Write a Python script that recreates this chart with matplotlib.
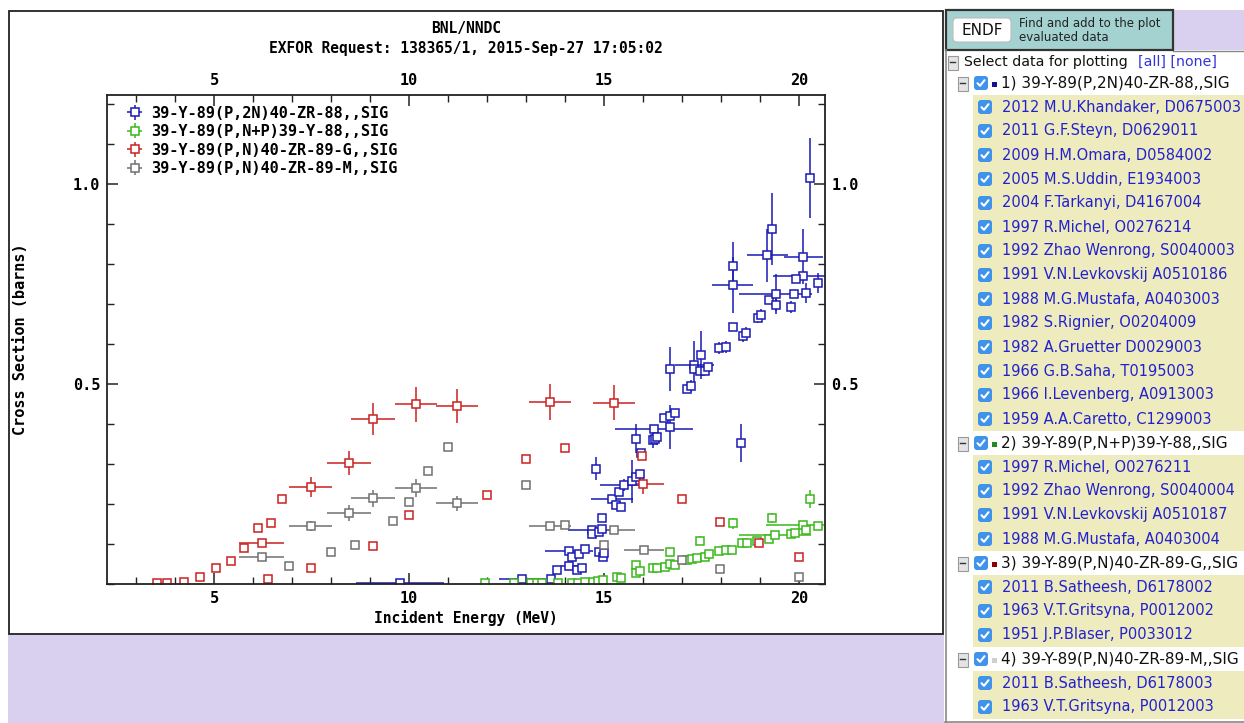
import matplotlib
matplotlib.use("Agg")
import matplotlib.pyplot as plt
from matplotlib.patches import Rectangle, FancyBboxPatch
from matplotlib.ticker import MultipleLocator, FormatStrFormatter

# ---------------- data: 39-Y-89 proton reactions (energy MeV, sigma barns) ----------------
zr88_x = [9.77, 12.91, 13.63, 13.80, 14.10, 14.30, 14.43, 14.11, 14.17, 14.37, 14.52, 14.88,
          14.98, 15.00, 14.69, 14.69, 14.86, 14.96, 14.96, 15.20, 15.32, 15.44, 14.79, 15.38,
          15.51, 15.71, 15.81, 15.93, 15.95, 15.82, 16.28, 16.25, 16.31, 16.36, 16.54, 16.70,
          16.81, 16.70, 16.69, 17.12, 17.23, 17.32, 17.32, 17.47, 17.60, 17.67, 17.48, 17.95,
          18.13, 18.30, 18.56, 18.65, 18.96, 19.03, 19.23, 19.40, 19.80, 18.30, 18.30, 18.51,
          19.30, 19.19, 20.11, 20.11, 19.92, 19.40, 19.88, 20.19, 20.49, 20.29]
zr88_y = [0.004, 0.012, 0.014, 0.035, 0.045, 0.035, 0.041, 0.082, 0.069, 0.075, 0.087, 0.080,
          0.069, 0.077, 0.136, 0.125, 0.131, 0.139, 0.165, 0.212, 0.199, 0.192, 0.289, 0.230,
          0.249, 0.257, 0.269, 0.276, 0.327, 0.364, 0.387, 0.360, 0.364, 0.369, 0.416, 0.420,
          0.427, 0.393, 0.537, 0.487, 0.496, 0.548, 0.537, 0.532, 0.532, 0.544, 0.574, 0.591,
          0.594, 0.644, 0.621, 0.627, 0.665, 0.674, 0.711, 0.698, 0.692, 0.795, 0.748, 0.353,
          0.888, 0.822, 0.819, 0.770, 0.762, 0.726, 0.726, 0.728, 0.752, 1.015]
zr88_xerr = [1.14, 0.61, 0, 0, 0.2, 0, 0, 0.62, 0, 0, 0, 0,
             0, 0, 0.62, 0, 0, 0, 0, 0.54, 0, 0, 0, 0,
             0.6, 0, 0, 0, 0, 0, 1.0, 0, 0, 0, 0, 0,
             0, 0, 0, 0, 0, 0.5, 0, 0, 0, 0, 0, 0,
             0, 0, 0, 0, 0, 0, 0, 0, 0, 0, 0.52, 0,
             0, 0.52, 0.5, 0.77, 0, 0.93, 0, 0, 0, 0]
zr88_yerr = [0, 0, 0, 0, 0, 0, 0, 0, 0, 0, 0, 0,
             0, 0, 0, 0, 0, 0, 0, 0, 0, 0, 0.029, 0,
             0.015, 0.054, 0, 0, 0, 0.037, 0, 0.02, 0, 0.02, 0, 0,
             0.01, 0.054, 0.055, 0, 0.015, 0.06, 0, 0, 0, 0, 0.06, 0.015,
             0.015, 0.01, 0.015, 0.015, 0.013, 0.013, 0, 0.015, 0.015, 0.06, 0.07, 0.047,
             0.09, 0.067, 0.068, 0.01, 0, 0.05, 0, 0.025, 0.025, 0.10]

y88_x = [11.95, 12.70, 13.13, 13.27, 13.42, 13.81, 14.17, 14.33, 14.51, 14.71, 14.85, 14.97,
         15.33, 15.44, 15.82, 15.82, 15.92, 16.25, 16.37, 16.56, 16.70, 16.81, 16.70, 17.13,
         17.26, 17.38, 17.47, 17.59, 17.69, 17.96, 18.12, 18.29, 18.31, 18.54, 18.67, 18.93,
         19.22, 19.30, 19.39, 19.79, 19.91, 20.11, 20.18, 20.29, 20.49]
y88_y = [0.003, 0.003, 0.003, 0.003, 0.003, 0.003, 0.003, 0.003, 0.005, 0.006, 0.008, 0.010,
         0.018, 0.015, 0.048, 0.028, 0.033, 0.041, 0.041, 0.044, 0.051, 0.049, 0.080, 0.061,
         0.062, 0.065, 0.109, 0.069, 0.075, 0.082, 0.085, 0.085, 0.152, 0.102, 0.102, 0.108,
         0.114, 0.165, 0.122, 0.125, 0.129, 0.149, 0.135, 0.213, 0.145]
y88_xerr = [0, 0, 0, 0, 0, 0, 0, 0, 0, 0, 0, 0,
            0, 0, 0, 0, 0, 0, 0, 0, 0, 0, 0, 0,
            0, 0, 0, 0, 0, 0, 0, 0, 0, 0, 0, 0,
            0, 0, 0.93, 0, 0, 0.96, 0, 0, 0]
y88_yerr = [0, 0, 0, 0, 0, 0, 0, 0, 0, 0, 0, 0,
            0, 0, 0, 0, 0, 0, 0, 0, 0, 0, 0.008, 0,
            0, 0, 0.012, 0, 0, 0, 0, 0, 0.013, 0, 0, 0,
            0, 0.012, 0, 0, 0, 0, 0, 0.023, 0]

zr89g_x = [3.55, 3.79, 4.24, 4.64, 5.05, 5.44, 5.77, 6.22, 6.12, 6.45, 6.39, 6.74,
           7.48, 7.48, 8.47, 9.08, 9.08, 10.01, 10.18, 11.24, 11.99, 13.62, 15.26, 13.00,
           14.01, 15.97, 16.01, 17.00, 17.98, 18.98, 20.00]
zr89g_y = [0.002, 0.002, 0.005, 0.018, 0.041, 0.058, 0.091, 0.102, 0.141, 0.152, 0.012, 0.212,
           0.242, 0.041, 0.303, 0.413, 0.095, 0.172, 0.450, 0.446, 0.222, 0.456, 0.454, 0.312,
           0.340, 0.320, 0.250, 0.213, 0.156, 0.102, 0.069]
zr89g_xerr = [0, 0, 0, 0, 0, 0, 0, 0.57, 0, 0, 0, 0,
              0.55, 0, 0.56, 0.56, 0, 0, 0.55, 0.54, 0, 0.54, 0.54, 0,
              0, 0, 0.52, 0, 0, 0, 0]
zr89g_yerr = [0, 0, 0, 0, 0, 0, 0, 0.01, 0, 0, 0, 0,
              0.025, 0, 0.03, 0.041, 0, 0, 0.044, 0.043, 0, 0.045, 0.044, 0,
              0, 0, 0.024, 0, 0, 0, 0]

zr89m_x = [6.22, 6.91, 7.48, 7.99, 8.47, 8.61, 9.08, 9.60, 10.01, 10.18, 10.49, 11.00,
           11.24, 13.00, 13.62, 14.01, 15.26, 15.00, 16.02, 17.00, 17.98, 20.00]
zr89m_y = [0.069, 0.045, 0.146, 0.081, 0.178, 0.098, 0.215, 0.158, 0.205, 0.240, 0.283, 0.343,
           0.202, 0.249, 0.146, 0.149, 0.135, 0.099, 0.085, 0.061, 0.038, 0.018]
zr89m_xerr = [0.57, 0, 0.55, 0, 0.56, 0, 0.56, 0, 0, 0.55, 0, 0,
              0.54, 0, 0.54, 0, 0.54, 0, 0.52, 0, 0, 0]
zr89m_yerr = [0.005, 0, 0.013, 0, 0.019, 0, 0.021, 0, 0, 0.022, 0, 0,
              0.019, 0, 0.01, 0, 0.01, 0, 0, 0, 0, 0.008]

series_labels = ["39-Y-89(P,2N)40-ZR-88,,SIG", "39-Y-89(P,N+P)39-Y-88,,SIG",
                 "39-Y-89(P,N)40-ZR-89-G,,SIG", "39-Y-89(P,N)40-ZR-89-M,,SIG"]
series_colors = ["#1a1ab4", "#38b81a", "#cc2020", "#707070"]

x_ticks = [5, 10, 15, 20]
y_ticks = [0.5, 1.0]

# side panel contents
group_titles = ["1) 39-Y-89(P,2N)40-ZR-88,,SIG", "2) 39-Y-89(P,N+P)39-Y-88,,SIG",
                "3) 39-Y-89(P,N)40-ZR-89-G,,SIG", "4) 39-Y-89(P,N)40-ZR-89-M,,SIG"]
group_swatches = ["#14148c", "#1e8c1e", "#8b0000", "#cfcfcf"]
group_entries = [
    ["2012 M.U.Khandaker, D0675003", "2011 G.F.Steyn, D0629011", "2009 H.M.Omara, D0584002",
     "2005 M.S.Uddin, E1934003", "2004 F.Tarkanyi, D4167004", "1997 R.Michel, O0276214",
     "1992 Zhao Wenrong, S0040003", "1991 V.N.Levkovskij A0510186", "1988 M.G.Mustafa, A0403003",
     "1982 S.Rignier, O0204009", "1982 A.Gruetter D0029003", "1966 G.B.Saha, T0195003",
     "1966 I.Levenberg, A0913003", "1959 A.A.Caretto, C1299003"],
    ["1997 R.Michel, O0276211", "1992 Zhao Wenrong, S0040004", "1991 V.N.Levkovskij A0510187",
     "1988 M.G.Mustafa, A0403004"],
    ["2011 B.Satheesh, D6178002", "1963 V.T.Gritsyna, P0012002", "1951 J.P.Blaser, P0033012"],
    ["2011 B.Satheesh, D6178003", "1963 V.T.Gritsyna, P0012003"],
]

# ---------------- figure ----------------
W, H = 1244, 723
fig = plt.figure(figsize=(W / 100, H / 100), dpi=100)
fig.patch.set_facecolor("white")

bg = fig.add_axes([0, 0, 1, 1], zorder=0)
bg.set_xlim(0, W)
bg.set_ylim(H, 0)
bg.axis("off")

LAV = "#d8d0ee"
MONO = {"family": "DejaVu Sans Mono", "weight": "bold"}

# plot frame and the page area below it
bg.add_patch(Rectangle((8, 634), 936, 89, fc=LAV, ec="none"))
bg.add_patch(Rectangle((8.5, 10.5), 934, 623, fc="white", ec="#222222", lw=1.3))

bg.text(465.7, 28, "BNL/NNDC", ha="center", va="center", fontsize=10.5, **MONO)
bg.text(465.7, 49, "EXFOR Request: 138365/1, 2015-Sep-27 17:05:02", ha="center",
        va="center", fontsize=10.5, **MONO)

# ---------------- side panel ----------------
bg.plot([945.5, 945.5], [50, 723], color="#888888", lw=1.2)
bg.plot([945, W], [721.5, 721.5], color="#888888", lw=1.2)
bg.add_patch(Rectangle((1173, 10), W - 1173, 40, fc=LAV, ec="none"))
bg.add_patch(Rectangle((946, 10), 227, 40, fc="#a3d2d0", ec="#333333", lw=1.6))
bg.plot([1173, W], [50.5, 50.5], color="#888888", lw=1.0)
bg.add_patch(FancyBboxPatch((953, 18), 58, 24, boxstyle="round,pad=0,rounding_size=4",
                            fc="white", ec="#bbbbbb", lw=0.8))
bg.text(982, 30.5, "ENDF", ha="center", va="center", fontsize=11, color="#111111")
bg.text(1019, 23, "Find and add to the plot", ha="left", va="center", fontsize=8.5,
        color="#222222")
bg.text(1019, 37.5, "evaluated data", ha="left", va="center", fontsize=8.5, color="#222222")


def minus_box(x, y):
    bg.add_patch(Rectangle((x - 5, y - 7), 10, 14, fc="#e4e4e4", ec="#999999", lw=0.8))
    bg.plot([x - 2.5, x + 2.5], [y - 1, y - 1], color="#333333", lw=1.0)


def checkbox(x, y):
    bg.add_patch(FancyBboxPatch((x - 7, y - 7), 14, 14,
                                boxstyle="round,pad=0,rounding_size=3",
                                fc="#3f93ea", ec="none"))
    bg.plot([x - 3.5, x - 1, x + 3.5], [y + 0.2, y + 2.8, y - 2.8], color="white",
            lw=1.5, solid_capstyle="round")


minus_box(952.5, 63)
bg.text(964, 62, "Select data for plotting", ha="left", va="center", fontsize=10.2,
        color="#111111")
bg.text(1138, 62, "[all] [none]", ha="left", va="center", fontsize=10.2, color="#3333dd")

row = 83
for title, swatch, entries in zip(group_titles, group_swatches, group_entries):
    minus_box(962.5, row + 1)
    checkbox(981, row)
    bg.add_patch(Rectangle((991.5, row - 1), 5, 5, fc=swatch, ec="none"))
    bg.text(1001, row, title, ha="left", va="center", fontsize=11, color="#111111")
    top = row + 12
    bg.add_patch(Rectangle((973, top), W - 973, 24 * len(entries), fc="#eeebbf", ec="none"))
    for i, name in enumerate(entries):
        yy = top + 12 + 24 * i
        checkbox(985, yy)
        bg.text(1002, yy, name, ha="left", va="center", fontsize=10.5, color="#2222cc")
    row = top + 24 * len(entries) + 12

# ---------------- cross-section plot ----------------
ax = fig.add_axes([107 / W, 1 - 584.3 / H, (824.5 - 107) / W, (584.3 - 95) / H], zorder=2)
ax.set_facecolor("white")

series = [
    (zr88_x, zr88_y, zr88_xerr, zr88_yerr),
    (y88_x, y88_y, y88_xerr, y88_yerr),
    (zr89g_x, zr89g_y, zr89g_xerr, zr89g_yerr),
    (zr89m_x, zr89m_y, zr89m_xerr, zr89m_yerr),
]
handles = []
for (xs, ys, xe, ye), col, lab in zip(series, series_colors, series_labels):
    h = ax.errorbar(xs, ys, xerr=xe, yerr=ye, fmt="s", ms=5.2, mfc="white", mec=col,
                    mew=1.1, ecolor=col, elinewidth=1.1, capsize=0, label=lab)
    handles.append(h)

ax.set_xlim(2.256, 20.654)
ax.set_ylim(0, 1.223)
ax.set_xticks(x_ticks)
ax.set_yticks(y_ticks)
ax.xaxis.set_minor_locator(MultipleLocator(1))
ax.yaxis.set_minor_locator(MultipleLocator(0.1))
ax.yaxis.set_major_formatter(FormatStrFormatter("%.1f"))
ax.tick_params(which="both", direction="in", top=True, right=True, labeltop=True,
               labelright=True, color="#222222")
ax.tick_params(which="major", length=8, width=1.1, pad=5, labelsize=11)
ax.tick_params(which="minor", length=5, width=1.0)
for lbl in ax.get_xticklabels() + ax.get_yticklabels():
    lbl.set_fontfamily("DejaVu Sans Mono")
    lbl.set_fontweight("bold")
for sp in ax.spines.values():
    sp.set_color("#222222")
    sp.set_linewidth(1.3)

ax.set_xlabel("Incident Energy (MeV)", fontsize=10.5, labelpad=3, **MONO)
ax.set_ylabel("Cross Section (barns)", fontsize=11, labelpad=32, **MONO)

ax.legend(handles=handles, loc="upper left", bbox_to_anchor=(0.012, 0.997), frameon=False,
          prop={"family": "DejaVu Sans Mono", "weight": "bold", "size": 11},
          handlelength=1.3, handletextpad=0.45, labelspacing=0.23, borderpad=0.1)

fig.savefig("out.png", dpi=100)
